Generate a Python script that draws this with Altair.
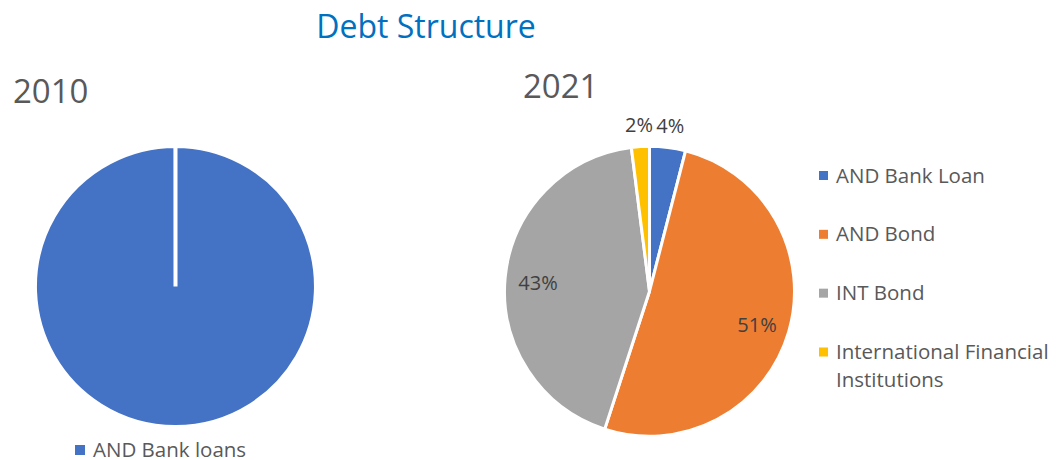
import altair as alt
import pandas as pd

# ---- data ----
title_text = ["Debt Structure"]
years = ["2010", "2021"]

cats_2010 = ["AND Bank loans"]
values_2010 = [100]

cats_2021 = ["AND Bank Loan", "AND Bond", "INT Bond", "International Financial Institutions"]
values_2021 = [4, 51, 43, 2]

colors_2021 = ["#4472C4", "#ED7D31", "#A5A5A5", "#FFC000"]
color_2010 = ["#4472C4"]

FONT = "Open Sans"

df2010 = pd.DataFrame({"cat": cats_2010, "value": values_2010, "idx": list(range(len(cats_2010)))})
df2021 = pd.DataFrame({"cat": cats_2021, "value": values_2021, "idx": list(range(len(cats_2021)))})

color_scale = alt.Scale(domain=cats_2021 + cats_2010, range=colors_2021 + color_2010)

# ---- pies ----
pie2010 = alt.Chart(df2010).mark_arc(
    radius=140.5, stroke="white", strokeWidth=4
).encode(
    theta=alt.Theta("value:Q", stack=True, scale=alt.Scale(domain=[0, 100.01])),
    color=alt.Color("cat:N", scale=color_scale, legend=None),
    order=alt.Order("idx:Q"),
    x=alt.value(167.5),
    y=alt.value(278.5),
)

pie2021 = alt.Chart(df2021).mark_arc(
    radius=145, stroke="white", strokeWidth=3
).encode(
    theta=alt.Theta("value:Q", stack=True),
    color=alt.Color("cat:N", scale=color_scale, legend=None),
    order=alt.Order("idx:Q"),
    x=alt.value(641.5),
    y=alt.value(283.3),
)

lab_base = alt.Chart(df2021).transform_calculate(
    lab_in="datum.value >= 10 ? datum.value + '%' : ''",
    lab_out="datum.value < 10 ? datum.value + '%' : ''",
)

lab_in = lab_base.mark_text(
    radius=112, font=FONT, fontSize=20, color="#404040", align="center", baseline="middle", dy=3
).encode(
    theta=alt.Theta("value:Q", stack=True),
    order=alt.Order("idx:Q"),
    detail="cat:N",
    text="lab_in:N",
    x=alt.value(641.5),
    y=alt.value(283.3),
)

lab_out = lab_base.mark_text(
    radius=166, font=FONT, fontSize=20, color="#404040", align="center", baseline="middle"
).encode(
    theta=alt.Theta("value:Q", stack=True),
    order=alt.Order("idx:Q"),
    detail="cat:N",
    text="lab_out:N",
    x=alt.value(641.5),
    y=alt.value(283.3),
)

# ---- titles ----
title = alt.Chart(pd.DataFrame({"t": title_text})).mark_text(
    font=FONT, fontSize=32, color="#0070C0", align="center", baseline="alphabetic"
).encode(text="t:N", x=alt.value(418), y=alt.value(30))

yr2010 = alt.Chart(pd.DataFrame({"t": [years[0]]})).mark_text(
    font=FONT, fontSize=33, color="#595959", align="left", baseline="alphabetic"
).encode(text="t:N", x=alt.value(5), y=alt.value(95))

yr2021 = alt.Chart(pd.DataFrame({"t": [years[1]]})).mark_text(
    font=FONT, fontSize=33, color="#595959", align="left", baseline="alphabetic"
).encode(text="t:N", x=alt.value(515), y=alt.value(90))

# ---- legends ----
leg2010_sq = alt.Chart(df2010).mark_square(size=100, opacity=1).encode(
    color=alt.Color("cat:N", scale=color_scale, legend=None),
    x=alt.value(72), y=alt.value(442),
)
leg2010_tx = alt.Chart(df2010).mark_text(
    font=FONT, fontSize=20.5, color="#595959", align="left", baseline="alphabetic"
).encode(text="cat:N", x=alt.value(85), y=alt.value(449))

leg_y = alt.Y("cat:N", scale=alt.Scale(domain=cats_2021, range=[167.5, 344], padding=0), axis=None)

leg2021_sq = alt.Chart(df2021).mark_square(size=81, opacity=1).encode(
    color=alt.Color("cat:N", scale=color_scale, legend=None),
    x=alt.value(815.5), y=leg_y,
)
leg2021_tx = alt.Chart(df2021).transform_calculate(
    lab="replace(datum.cat, ' Institutions', '|Institutions')"
).mark_text(
    font=FONT, fontSize=20.5, color="#595959", align="left", baseline="alphabetic",
    dy=7, lineBreak="|", lineHeight=28,
).encode(text="lab:N", x=alt.value(828), y=leg_y)

chart = alt.layer(
    pie2010, pie2021, lab_in, lab_out, title, yr2010, yr2021,
    leg2010_sq, leg2010_tx, leg2021_sq, leg2021_tx,
).resolve_scale(theta="independent").properties(
    width=1040, height=452, autosize=alt.AutoSizeParams(type="none"), padding=0,
).configure_view(strokeWidth=0)

chart.save("out.html", embed_options={"renderer": "svg", "actions": False})
